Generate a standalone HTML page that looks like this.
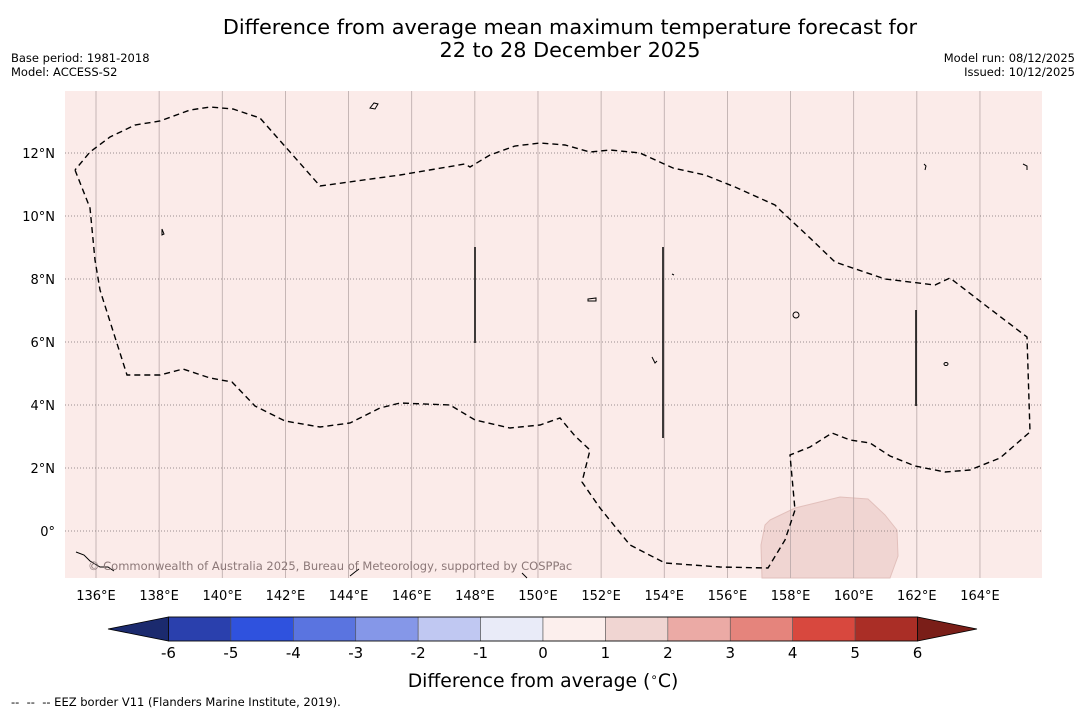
<!DOCTYPE html>
<html><head><meta charset="utf-8"><style>
body{margin:0;background:#fff;font-family:"DejaVu Sans","Liberation Sans",sans-serif;}
svg{display:block}
</style></head><body>
<svg width="1085" height="713" xmlns="http://www.w3.org/2000/svg" id="chart">
<text x="570" y="34" font-size="20.8" text-anchor="middle">Difference from average mean maximum temperature forecast for</text>
<text x="570" y="57" font-size="20.8" text-anchor="middle">22 to 28 December 2025</text>
<text x="11" y="62" font-size="11.5">Base period: 1981-2018</text>
<text x="11" y="76" font-size="11.5">Model: ACCESS-S2</text>
<text x="1075" y="62" font-size="11.5" text-anchor="end">Model run: 08/12/2025</text>
<text x="1075" y="76" font-size="11.5" text-anchor="end">Issued: 10/12/2025</text>
<g id="map">
<rect x="65" y="91" width="977" height="487" fill="#fbebe9"/>
<polygon fill="#f0d5d2" stroke="#e2c0bc" stroke-width="1" points="770,520 795,508 840,497 868,499 885,515 897,530 898,556 890,578 762,578 761,545 765,525"/>
<g id="grid"></g>
<polyline id="eez" fill="none" stroke="#000" stroke-width="1.4" stroke-dasharray="6,4" points="75,170 90,208 95,260 100,290 127,375 160,375 183,369 210,378 232,382 255,406 285,421 320,427 350,423 380,408 400,403 450,405 475,420 510,428 540,425 560,418 575,436 590,450 582,482 600,508 630,545 665,563 720,567 768,568 785,540 795,510 790,455 810,447 832,433 850,440 870,443 890,456 915,466 945,472 970,470 1000,458 1030,432 1027,337 985,305 950,278 935,285 885,279 835,262 810,238 780,210 775,205 735,187 705,175 673,168 640,153 610,150 590,152 565,145 540,143 515,146 490,155 470,167 465,164 400,175 320,186 260,118 233,109 210,107 190,110 160,121 135,125 110,137 90,152 75,170"/>
<line x1="475" y1="247" x2="475" y2="343" stroke="#000" stroke-width="1.5"/>
<line x1="663" y1="247" x2="663" y2="438" stroke="#000" stroke-width="1.5"/>
<line x1="916" y1="310" x2="916" y2="406" stroke="#000" stroke-width="1.5"/>
<g fill="none" stroke="#000" stroke-width="1">
<path d="M370,108 l4,-5 l4,1 l-3,5 z"/><path d="M162,229 l2,5 l-2,1z"/><path d="M588,299 l8,-1 l0,3 l-8,0z"/>
<ellipse cx="796" cy="315" rx="3" ry="3"/><ellipse cx="946" cy="364" rx="2" ry="1.5"/>
<path d="M76,552 l8,3 l6,6 l10,6 l8,0 l6,4"/><path d="M522,573 l5,5"/><path d="M1023,164 l4,2 l0,4"/><path d="M924,164 l2,2 l-1,4"/>
<path d="M350,576 l5,-4 l4,-3"/><path d="M672,274 l2,1"/><path d="M652,357 l3,6 l2,-2"/>
</g>
<text x="88" y="570" font-size="11.5" fill="#8c7878">© Commonwealth of Australia 2025, Bureau of Meteorology, supported by COSPPac</text>
</g>
<g id="axes"></g>
<g id="cbar"></g>
<text x="543" y="687" font-size="18.8" text-anchor="middle">Difference from average (<tspan font-size="12" dy="-6">∘</tspan><tspan dy="6">C)</tspan></text>
<text x="11" y="706" font-size="11.5" xml:space="preserve">--  --  -- EEZ border V11 (Flanders Marine Institute, 2019).</text>
</svg>
<script>
const lonTicks=[136,138,140,142,144,146,148,150,152,154,156,158,160,162,164];
const latTicks=[0,2,4,6,8,10,12];
const cbarTicks=[-6,-5,-4,-3,-2,-1,0,1,2,3,4,5,6];
const cbarColors=["#2a40ad","#2f52de","#5a74e0","#8597e8","#c0c8f2","#e9ebf8","#fcefed","#f0d5d2","#ebaaa5","#e5847c","#d8483e","#aa2e26"];
const cbarExtend=["#1b2a6e","#7a1e18"];
const NS="http://www.w3.org/2000/svg";
const lonX=l=>96+(l-136)*31.57, latY=l=>531-l*31.5;
const cX=v=>543+v*62.42;
function mk(t,a,p){const e=document.createElementNS(NS,t);for(const k in a)e.setAttribute(k,a[k]);p.appendChild(e);return e;}
const grid=document.getElementById('grid'),axes=document.getElementById('axes'),cb=document.getElementById('cbar');
lonTicks.forEach(l=>{const x=lonX(l);
 const g=mk('line',{x1:x,y1:91,x2:x,y2:578,stroke:'#b8a8a8','stroke-width':0.8},grid);
 
 
 const t=mk('text',{x:x,y:600,'font-size':13,'text-anchor':'middle'},axes);t.textContent=l+'°E';
 
 });
latTicks.forEach(l=>{const y=latY(l);
 const g=mk('line',{x1:65,y1:y,x2:1042,y2:y,stroke:'#7a7070','stroke-width':0.8,'stroke-dasharray':'1,2'},grid);
 
 
 const t=mk('text',{x:55,y:y+5,'font-size':13,'text-anchor':'end'},axes);t.textContent=l+'°'+(l?'N':'');
 
 });
const y0=617,h=24;
const e1=mk('polygon',{points:`${cX(-6)},${y0} ${cX(-6)},${y0+h} 108,${y0+h/2}`,fill:cbarExtend[0],stroke:'#000','stroke-width':0.8},cb);


const e2=mk('polygon',{points:`${cX(6)},${y0} ${cX(6)},${y0+h} 977,${y0+h/2}`,fill:cbarExtend[1],stroke:'#000','stroke-width':0.8},cb);


cbarColors.forEach((c,i)=>{const r=mk('rect',{x:cX(cbarTicks[i]),y:y0,width:cX(cbarTicks[i+1])-cX(cbarTicks[i]),height:h,fill:c,stroke:'#555','stroke-width':0.6},cb);
 
 });
mk('rect',{x:cX(-6),y:y0,width:cX(6)-cX(-6),height:h,fill:'none',stroke:'#000','stroke-width':0.8},cb);
cbarTicks.forEach(v=>{const t=mk('text',{x:cX(v),y:658,'font-size':15,'text-anchor':'middle'},cb);t.textContent=v;
 
 });
</script>
</body></html>
